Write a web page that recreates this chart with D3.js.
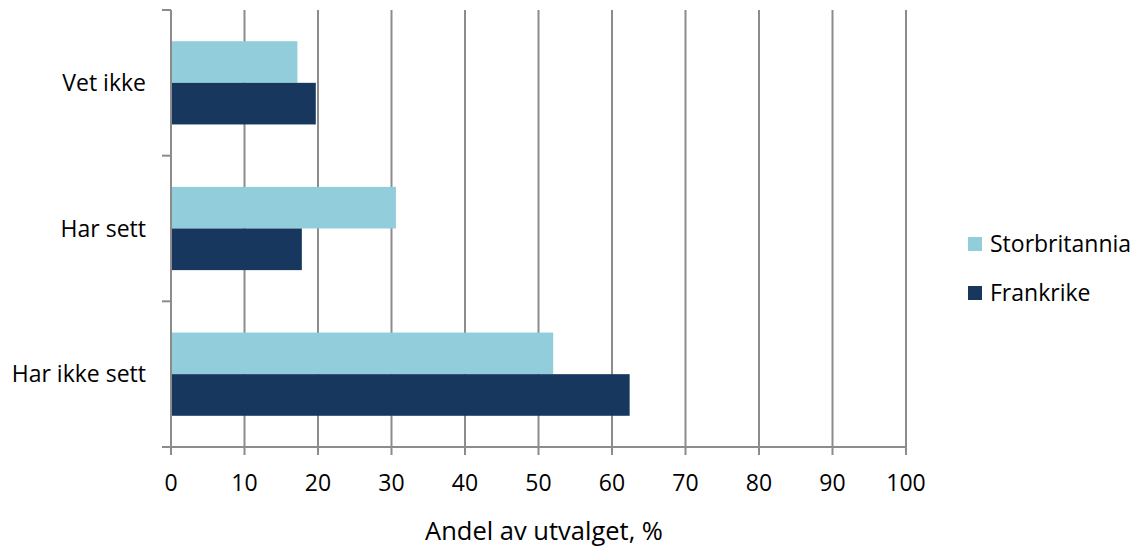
<!DOCTYPE html>
<html>
<head>
<meta charset="utf-8">
<script src="https://cdn.jsdelivr.net/npm/d3@7"></script>
<style>
  body { margin: 0; background: #fff; }
  text { font-family: "Open Sans", "Noto Sans", sans-serif; fill: #000; }
</style>
</head>
<body>
<div id="chart"></div>
<script>
// data
const categories = ["Vet ikke", "Har sett", "Har ikke sett"];
const seriesNames = ["Storbritannia", "Frankrike"];
const storbritannia = [17.2, 30.6, 52.0];
const frankrike = [19.7, 17.8, 62.4];
const xTicks = [0, 10, 20, 30, 40, 50, 60, 70, 80, 90, 100];
const axisTitle = "Andel av utvalget, %";

const colors = { Storbritannia: "#92cddc", Frankrike: "#17375e" };
const gridColor = "#8c8c8c";

const width = 1137, height = 547;
const margin = { top: 10, left: 171, right: 231, bottom: 100 };

const svg = d3.select("#chart").append("svg")
  .attr("width", width)
  .attr("height", height);

const x = d3.scaleLinear().domain([0, 100]).range([margin.left, width - margin.right]);
const y = d3.scaleBand().domain(categories).range([margin.top, height - margin.bottom]);
const inner = d3.scaleBand().domain(seriesNames)
  .range([0, y.bandwidth()]).paddingOuter(0.75);

const rows = categories.map((c, i) => ({ cat: c, Storbritannia: storbritannia[i], Frankrike: frankrike[i] }));

// vertical gridlines with small ticks below the axis
svg.append("g").selectAll("line")
  .data(xTicks)
  .join("line")
  .attr("x1", d => x(d)).attr("x2", d => x(d))
  .attr("y1", margin.top).attr("y2", height - margin.bottom + 8)
  .attr("stroke", gridColor).attr("stroke-width", 2);

// bars
svg.append("g").selectAll("g")
  .data(rows)
  .join("g")
  .attr("transform", d => `translate(0,${y(d.cat)})`)
  .selectAll("rect")
  .data(d => seriesNames.map(s => ({ s, v: d[s] })))
  .join("rect")
  .attr("x", x(0))
  .attr("y", d => inner(d.s))
  .attr("width", d => x(d.v) - x(0))
  .attr("height", inner.bandwidth())
  .attr("fill", d => colors[d.s]);

// left axis line with category separators
const yEdges = categories.map(c => y(c)).concat([y.range()[1]]);
svg.append("line")
  .attr("x1", x(0)).attr("x2", x(0))
  .attr("y1", margin.top).attr("y2", height - margin.bottom)
  .attr("stroke", gridColor).attr("stroke-width", 2);
svg.append("g").selectAll("line")
  .data(yEdges)
  .join("line")
  .attr("x1", x(0) - 9).attr("x2", x(0))
  .attr("y1", d => d).attr("y2", d => d)
  .attr("stroke", gridColor).attr("stroke-width", 2);

// bottom axis line
svg.append("line")
  .attr("x1", x(0) - 9).attr("x2", x(100))
  .attr("y1", height - margin.bottom).attr("y2", height - margin.bottom)
  .attr("stroke", gridColor).attr("stroke-width", 2);

// category labels
svg.append("g").selectAll("text")
  .data(categories)
  .join("text")
  .attr("x", 146)
  .attr("y", d => y(d) + y.bandwidth() / 2)
  .attr("dy", "0.35em")
  .attr("text-anchor", "end")
  .attr("font-size", 23)
  .text(d => d);

// x tick labels
svg.append("g").selectAll("text")
  .data(xTicks)
  .join("text")
  .attr("x", d => x(d))
  .attr("y", 491)
  .attr("text-anchor", "middle")
  .attr("font-size", 23)
  .text(d => d);

svg.append("text")
  .attr("x", 544)
  .attr("y", 540)
  .attr("text-anchor", "middle")
  .attr("font-size", 25.5)
  .text(axisTitle);

// legend
const legend = svg.append("g").selectAll("g")
  .data(seriesNames)
  .join("g")
  .attr("transform", (d, i) => `translate(968,${237 + i * 49})`);
legend.append("rect")
  .attr("width", 14).attr("height", 14)
  .attr("fill", d => colors[d]);
legend.append("text")
  .attr("x", 22).attr("y", 7)
  .attr("dy", "0.35em")
  .attr("font-size", 23)
  .text(d => d);
</script>
</body>
</html>
